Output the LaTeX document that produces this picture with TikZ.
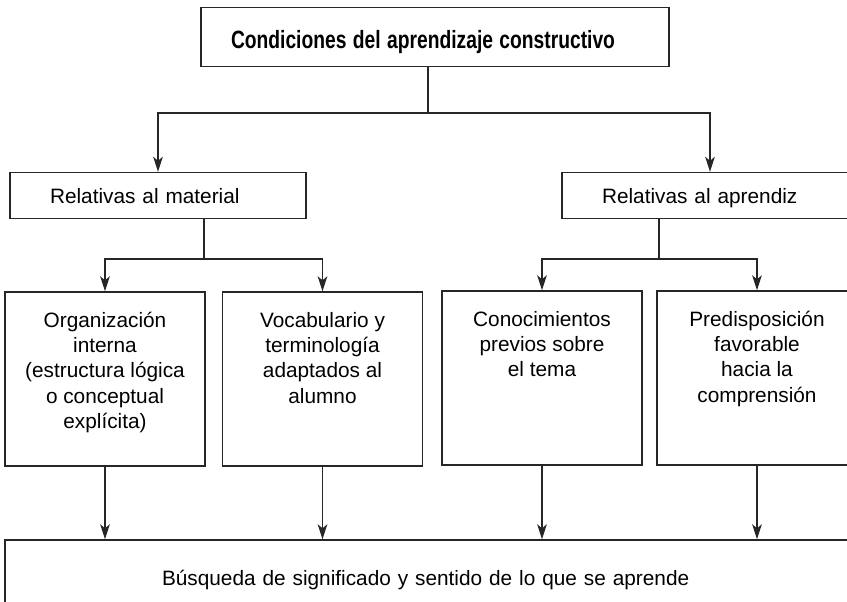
\documentclass[tikz,border=0pt]{standalone}
\usepackage{fontspec}
\setmainfont{Liberation Sans}
\usetikzlibrary{arrows.meta}

% text of the tall boxes, from the top
\newcommand{\texto}[1]{\parbox[t][87pt][t]{100pt}{\centering\rule{0pt}{17.5pt}#1}}

\begin{document}
\begin{tikzpicture}[x=0.5pt,y=-0.5pt,
    every node/.style={font=\fontsize{10.4}{12.7}\selectfont},
    caja/.style={draw=black!85,line width=0.7pt,inner sep=0pt},
    lado/.style={caja,align=left,inner xsep=20pt,text width=108pt,minimum height=23pt,text depth=0pt},
    linea/.style={draw=black!85,line width=0.75pt},
    flecha/.style={linea,-{Stealth[length=7.5pt,width=4.8pt,inset=2pt]}}]
    \useasboundingbox (0,0) rectangle (847,601);

    % nodes
    \node[caja,font={\bfseries\fontsize{12.5}{15}\selectfont},align=left,
        inner xsep=15pt,text width=204pt,minimum height=29.5pt,text height=11pt,text depth=0pt]
        (titulo) at (435,37) {\scalebox{0.77}[1]{Condiciones del aprendizaje constructivo}};

    \node[lado] (material) at (158,195.5) {Relativas al material};
    \node[lado] (aprendiz) at (710,195.5) {Relativas al aprendiz};

    \node[caja] (organiz) at (105,379) {\texto{Organización\\interna\\(estructura lógica\\o conceptual\\explícita)}};
    \node[caja] (vocab) at (322.5,379) {\texto{Vocabulario y\\terminología\\adaptados al\\alumno}};
    \node[caja] (conoc) at (542,378) {\texto{Conocimientos\\previos sobre\\el tema}};
    \node[caja] (predis) at (757,378) {\texto{Predisposición\\favorable\\hacia la\\comprensión}};

    \node[caja,align=left,inner xsep=78.5pt,text width=269pt,minimum height=40pt]
        (busq) at (431,580) {Búsqueda de significado y sentido de lo que se aprende};

    % edges
    \coordinate (r0) at (428,113);
    \coordinate (r1) at (204,259);
    \coordinate (r2) at (659,259);

    \draw[linea] (titulo.south -| r0) -- (r0);
    \draw[flecha] (r0) -| (material.north);
    \draw[flecha] (r0) -| (aprendiz.north);

    \draw[linea] (material.south -| r1) -- (r1);
    \draw[flecha] (r1) -| (organiz.north);
    \draw[flecha] (r1) -| (vocab.north);

    \draw[linea] (aprendiz.south -| r2) -- (r2);
    \draw[flecha] (r2) -| (conoc.north);
    \draw[flecha] (r2) -| (predis.north);

    \foreach \n in {organiz,vocab,conoc,predis}
        \draw[flecha] (\n.south) -- (\n.south |- busq.north);
\end{tikzpicture}
\end{document}
